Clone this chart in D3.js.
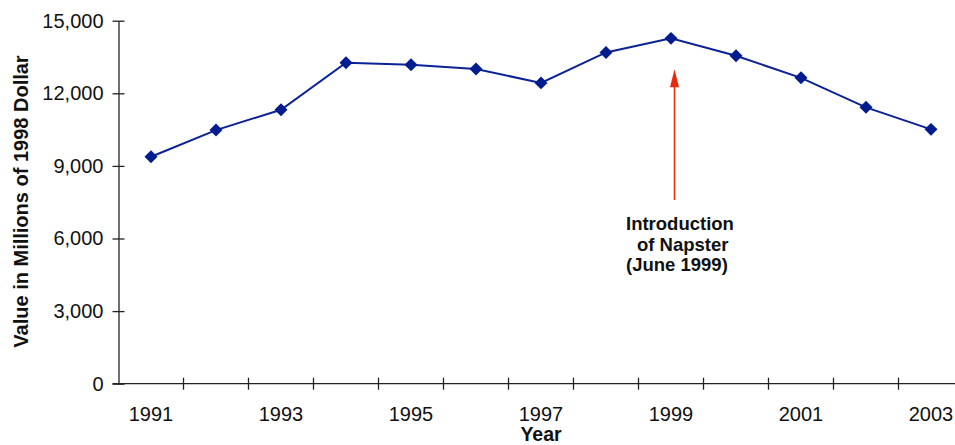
<!DOCTYPE html>
<html>
<head>
<meta charset="utf-8">
<script src="https://cdn.jsdelivr.net/npm/d3@7"></script>
<style>
  html, body { margin: 0; padding: 0; background: #fff; }
  svg { display: block; font-family: "Liberation Sans", Arial, Helvetica, sans-serif; }
</style>
</head>
<body>
<svg id="chart" width="955" height="445"></svg>
<script>
// Music sales value, millions of 1998 dollars
const years = [1991, 1992, 1993, 1994, 1995, 1996, 1997, 1998, 1999, 2000, 2001, 2002, 2003];
const values = [9380, 10480, 11320, 13260, 13180, 13000, 12430, 13690, 14270, 13550, 12640, 11420, 10510];
const yTicks = [0, 3000, 6000, 9000, 12000, 15000];
const xLabelYears = [1991, 1993, 1995, 1997, 1999, 2001, 2003];
const noteLines = ["Introduction", "of Napster", "(June 1999)"];
const noteYear = 1999;

const svg = d3.select("#chart");
const plotLeft = 118.5, plotTop = 20.7, plotBottom = 383.7;
const bandW = 65;
const plotRight = plotLeft + bandW * years.length;

const x = d3.scaleBand().domain(years).range([plotLeft, plotRight]).paddingInner(0).paddingOuter(0);
const y = d3.scaleLinear().domain([0, 15000]).range([plotBottom, plotTop]);

const axisColor = "#222";
const lineColor = "#0b2196";
const markColor = "#001c8e";

// y axis
const yAxis = svg.append("g")
  .attr("transform", `translate(${plotLeft},0)`)
  .call(d3.axisLeft(y).tickValues(yTicks).tickSize(0).tickPadding(15).tickFormat(d3.format(",")));
yAxis.select(".domain").attr("stroke", axisColor).attr("stroke-width", 1.3);
yAxis.selectAll(".tick line").remove();
yAxis.selectAll(".tick").append("line")
  .attr("x1", -6).attr("x2", 6).attr("stroke", axisColor).attr("stroke-width", 1.3);
yAxis.selectAll("text").attr("font-size", 20).attr("fill", "#111").attr("font-family", null);

// x axis: ticks at band boundaries, labels on odd years
const xAxisG = svg.append("g").attr("transform", `translate(0,${plotBottom})`);
xAxisG.append("line").attr("x1", plotLeft - 6).attr("x2", plotRight).attr("stroke", axisColor).attr("stroke-width", 1.3);
xAxisG.selectAll("line.tk").data(years)
  .join("line").attr("class", "tk")
  .attr("x1", d => x(d) + x.bandwidth()).attr("x2", d => x(d) + x.bandwidth())
  .attr("y1", -6).attr("y2", 6).attr("stroke", axisColor).attr("stroke-width", 1.3);
xAxisG.selectAll("text").data(xLabelYears).join("text")
  .attr("x", d => x(d) + x.bandwidth() / 2)
  .attr("y", 37.5)
  .attr("text-anchor", "middle")
  .attr("font-size", 20).attr("fill", "#111")
  .text(d => d);

// axis titles
svg.append("text")
  .attr("x", 541).attr("y", 441)
  .attr("text-anchor", "middle").attr("font-size", 19.5).attr("font-weight", "bold").attr("fill", "#111")
  .text("Year");
svg.append("text")
  .attr("transform", "translate(28,201.5) rotate(-90)")
  .attr("text-anchor", "middle").attr("font-size", 20).attr("font-weight", "bold").attr("fill", "#111")
  .text("Value in Millions of 1998 Dollar");

// series line
const cx = d => x(d) + x.bandwidth() / 2;
const line = d3.line().x((d, i) => cx(years[i])).y(d => y(d));
svg.append("path").datum(values)
  .attr("d", line).attr("fill", "none").attr("stroke", lineColor).attr("stroke-width", 2);

// diamond markers
svg.selectAll("path.mk").data(values).join("path").attr("class", "mk")
  .attr("d", d3.symbol().type(d3.symbolSquare).size(84))
  .attr("transform", (d, i) => `translate(${cx(years[i])},${y(d)}) rotate(45)`)
  .attr("fill", markColor);

// annotation arrow
const ax = cx(noteYear) + 3.5;
const tipY = y(values[years.indexOf(noteYear)]) + 31;
svg.append("line").attr("x1", ax).attr("x2", ax).attr("y1", tipY + 16).attr("y2", 200)
  .attr("stroke", "#ec2a10").attr("stroke-width", 1.6);
svg.append("path")
  .attr("d", `M${ax},${tipY} L${ax - 4.5},${tipY + 18} L${ax + 4.5},${tipY + 18} Z`)
  .attr("fill", "#e8290b");

// annotation text, second line indented
const noteX = 626, noteIndent = [0, 11, 0];
const note = svg.append("text")
  .attr("font-size", 18.5).attr("font-weight", "bold").attr("fill", "#111");
note.selectAll("tspan").data(noteLines).join("tspan")
  .attr("x", (d, i) => noteX + noteIndent[i]).attr("y", (d, i) => 230 + i * 20.5)
  .text(d => d);
</script>
</body>
</html>
